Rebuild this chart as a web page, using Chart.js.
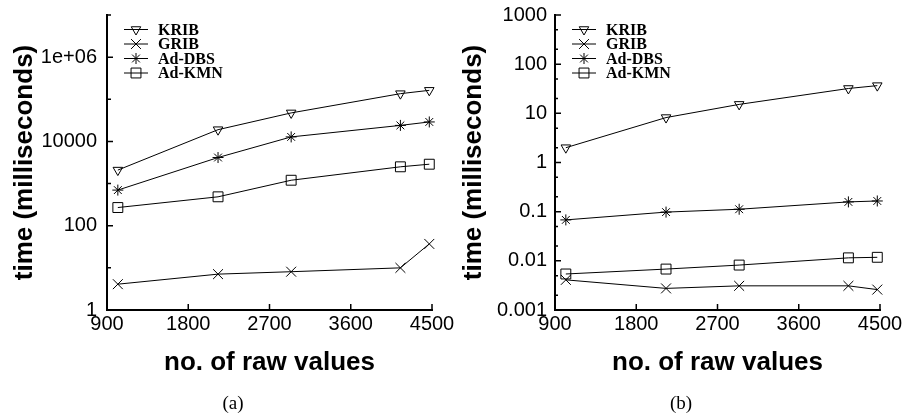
<!DOCTYPE html>
<html><head><meta charset="utf-8">
<script src="https://cdn.jsdelivr.net/npm/chart.js@4"></script>
<style>
html,body{margin:0;padding:0;background:#fff;}
body{width:907px;height:416px;position:relative;overflow:hidden;}
#ca{position:absolute;left:0;top:0;}
#cb{position:absolute;left:455px;top:0;}
</style></head><body>
<canvas id="ca" width="466" height="416"></canvas>
<canvas id="cb" width="452" height="416"></canvas>
<script>
// ---- data ----
const seriesNames = ['KRIB', 'GRIB', 'Ad-DBS', 'Ad-KMN'];
const rawValues = [1020, 2130, 2940, 4150, 4470];

// (a)
const kribA = [2090, 19000, 47500, 136000, 163000];
const gribA = [4.1, 7.1, 8.1, 10, 37];
const dbsA  = [700, 4150, 12800, 24000, 29000];
const kmnA  = [270, 485, 1200, 2500, 2880];

// (b)
const kribB = [2.0, 8.2, 15.2, 32, 36.6];
const gribB = [0.0041, 0.00275, 0.0031, 0.0031, 0.0026];
const dbsB  = [0.068, 0.098, 0.112, 0.158, 0.165];
const kmnB  = [0.0054, 0.0068, 0.0082, 0.0115, 0.0118];

// ticks
const xTickValues = [900, 1800, 2700, 3600, 4500];
const xTickLabels = ['900', '1800', '2700', '3600', '4500'];
const yTickValuesA = [1, 10, 100, 1000, 10000, 100000, 1000000, 10000000];
const yTickLabelsA = ['1', '', '100', '', '10000', '', '1e+06', ''];
const yTickValuesB = [0.001, 0.01, 0.1, 1, 10, 100, 1000];
const yTickLabelsB = ['0.001', '0.01', '0.1', '1', '10', '100', '1000'];
const yMinorTicksB = [0.002, 0.005, 0.02, 0.05, 0.2, 0.5, 2, 5, 20, 50, 200, 500];

// ---- styles ----
const SANS = '"Liberation Sans", Arial, Helvetica, sans-serif';
const SERIF = '"Liberation Serif", "Times New Roman", Times, serif';
const markerStyles = [
  { pointStyle: 'triangle', pointRotation: 180, pointRadius: 5.5 },
  { pointStyle: 'crossRot', pointRotation: 0, pointRadius: 7 },
  { pointStyle: 'star', pointRotation: 0, pointRadius: 5.5 },
  { pointStyle: 'rect', pointRotation: 0, pointRadius: 7 }
];

const inwardTicks = {
  id: 'inwardTicks',
  afterDraw(chart, args, o) {
    const { ctx, chartArea: ca } = chart;
    const x = chart.scales.x, y = chart.scales.y;
    ctx.save();
    ctx.strokeStyle = '#000';
    ctx.lineWidth = 1.5;
    ctx.beginPath();
    y.ticks.forEach(t => {
      const py = y.getPixelForValue(t.value);
      const len = t.label ? 6 : 4;
      ctx.moveTo(ca.left, py); ctx.lineTo(ca.left + len, py);
    });
    (o.minor || []).forEach(v => {
      const py = y.getPixelForValue(v);
      ctx.moveTo(ca.left, py); ctx.lineTo(ca.left + 3, py);
    });
    x.ticks.forEach(t => {
      const px = x.getPixelForValue(t.value);
      ctx.moveTo(px, ca.bottom); ctx.lineTo(px, ca.bottom - 6);
    });
    ctx.stroke();
    ctx.restore();
  }
};

const boxLegend = {
  id: 'boxLegend',
  afterDraw(chart) {
    const { ctx, chartArea: ca } = chart;
    ctx.save();
    ctx.font = 'bold 16px ' + SERIF;
    ctx.textBaseline = 'middle';
    ctx.textAlign = 'left';
    chart.data.datasets.forEach((ds, i) => {
      const yy = ca.top + 14.5 + i * 14.5;
      const x0 = ca.left + 17, x1 = ca.left + 41, xm = (x0 + x1) / 2;
      ctx.strokeStyle = '#000';
      ctx.lineWidth = 1;
      ctx.beginPath(); ctx.moveTo(x0, yy); ctx.lineTo(x1, yy); ctx.stroke();
      ctx.fillStyle = 'rgba(0,0,0,0)';
      if (Chart.helpers && Chart.helpers.drawPoint) {
        Chart.helpers.drawPoint(ctx, { pointStyle: ds.pointStyle, rotation: ds.pointRotation || 0, radius: ds.pointRadius, borderWidth: 1 }, xm, yy);
      }
      ctx.fillStyle = '#000';
      ctx.fillText(ds.label, ca.left + 51, yy + 1);
    });
    ctx.restore();
  }
};

function makeChart(id, seriesValues, yMin, yMax, yTicks, yLabels, yMinor, caption, yAxisW, yTitlePad, yTickPad, rightPad) {
  const datasets = seriesValues.map((vals, i) => Object.assign({
    label: seriesNames[i],
    data: rawValues.map((xv, j) => ({ x: xv, y: vals[j] })),
    borderColor: '#000',
    borderWidth: 1,
    pointBorderColor: '#000',
    pointBackgroundColor: 'rgba(0,0,0,0)',
    pointBorderWidth: 1,
    tension: 0,
    clip: false
  }, markerStyles[i]));
  const titleBoxH = 19 * 1.2 + 1;
  const xAxisH = 416 - 310 - titleBoxH;
  return new Chart(document.getElementById(id), {
    type: 'line',
    data: { datasets },
    plugins: [inwardTicks, boxLegend],
    options: {
      responsive: false,
      animation: false,
      devicePixelRatio: 1,
      events: [],
      layout: { padding: { left: 0, top: 15, right: 0, bottom: 0 } },
      plugins: {
        legend: { display: false },
        tooltip: { enabled: false },
        inwardTicks: { minor: yMinor },
        title: {
          display: true, text: caption, position: 'bottom', color: '#000',
          font: { family: SERIF, size: 19, weight: 'normal', lineHeight: 1.2 },
          padding: { top: 0, bottom: 1 }
        }
      },
      scales: {
        x: {
          type: 'linear', min: 900, max: 4500,
          afterBuildTicks: s => { s.ticks = xTickValues.map(v => ({ value: v })); },
          afterFit: s => { s.height = xAxisH; s.paddingRight = rightPad; },
          ticks: {
            autoSkip: false, maxRotation: 0, minRotation: 0, padding: 4, color: '#000',
            font: { family: SANS, size: 20, lineHeight: 1 },
            callback: (v, i) => xTickLabels[i]
          },
          grid: { display: true, drawOnChartArea: false, drawTicks: false },
          border: { display: true, color: '#000', width: 2 },
          title: {
            display: true, text: 'no. of raw values', color: '#000',
            font: { family: SANS, size: 26, weight: 'bold', lineHeight: 1 },
            padding: { top: 0, bottom: 16 }
          }
        },
        y: {
          type: 'logarithmic', min: yMin, max: yMax,
          afterBuildTicks: s => { s.ticks = yTicks.map(v => ({ value: v })); },
          afterFit: s => { s.width = yAxisW; s.paddingTop = 0; s.paddingBottom = 0; },
          ticks: {
            autoSkip: false, padding: yTickPad, color: '#000',
            font: { family: SANS, size: 20, lineHeight: 1.2 },
            callback: (v, i) => yLabels[i]
          },
          grid: { display: true, drawOnChartArea: false, drawTicks: false },
          border: { display: true, color: '#000', width: 2 },
          title: {
            display: true, text: 'time (milliseconds)', color: '#000',
            font: { family: SANS, size: 26, weight: 'bold', lineHeight: 1 },
            padding: { top: yTitlePad, bottom: 0 }
          }
        }
      }
    }
  });
}

makeChart('ca', [kribA, gribA, dbsA, kmnA], 1, 10000000, yTickValuesA, yTickLabelsA, [], '(a)', 107, 12, 10, 34);
makeChart('cb', [kribB, gribB, dbsB, kmnB], 0.001, 1000, yTickValuesB, yTickLabelsB, yMinorTicksB, '(b)', 100, 6, 8, 27);
</script>
</body></html>
